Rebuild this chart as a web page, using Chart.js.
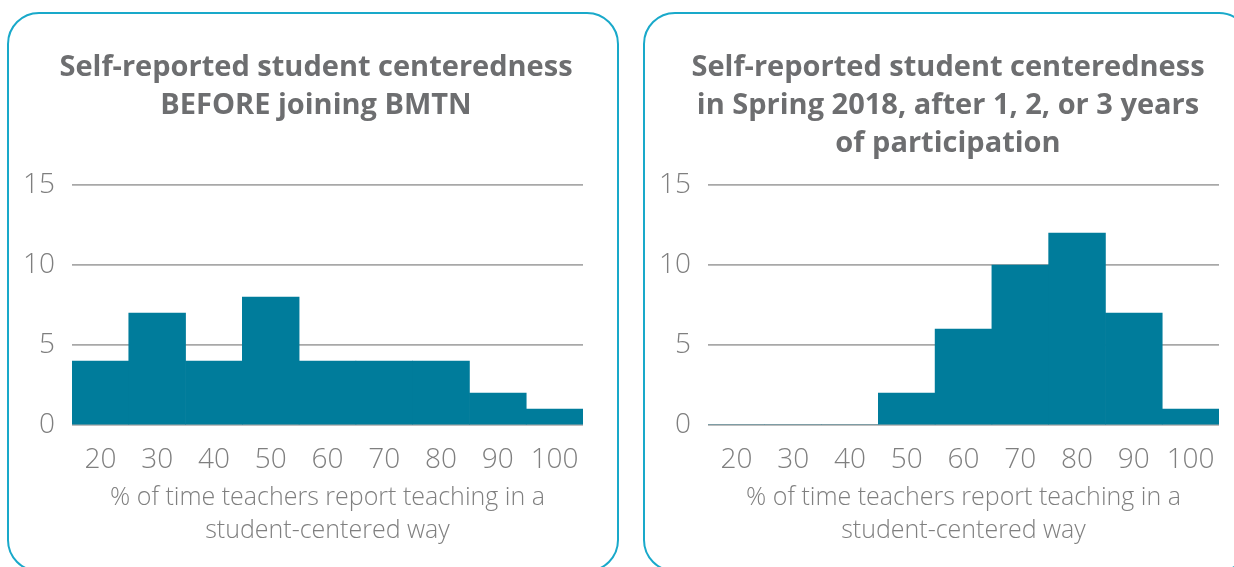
<!DOCTYPE html>
<html>
<head>
<meta charset="utf-8">
<script src="https://cdn.jsdelivr.net/npm/chart.js@4.4.1/dist/chart.umd.min.js"></script>
<style>
  html, body { margin: 0; padding: 0; background: #fff; width: 1234px; height: 567px; overflow: hidden; position: relative; }
  .panel { position: absolute; box-sizing: border-box; border: 2px solid #19a9ca; border-radius: 32px; }
  #p1 { left: 7px; top: 12px; width: 612px; height: 560px; }
  #p2 { left: 643px; top: 12px; width: 608px; height: 560px; }
  canvas { position: absolute; top: 0; }
  #c1 { left: 0; }
  #c2 { left: 630px; }
</style>
</head>
<body>
<div class="panel" id="p1"></div>
<div class="panel" id="p2"></div>
<canvas id="c1" width="620" height="567"></canvas>
<canvas id="c2" width="620" height="567"></canvas>
<script>
"use strict";

// bins: % of time teachers report teaching in a student-centered way
const categories = ["20", "30", "40", "50", "60", "70", "80", "90", "100"];
const beforeCounts = [4, 7, 4, 8, 4, 4, 4, 2, 1];
const spring2018Counts = [0, 0, 0, 2, 6, 10, 12, 7, 1];
const yMin = 0, yMax = 15, yStep = 5;

const titleBefore = ["Self-reported student centeredness", "BEFORE joining BMTN"];
const titleAfter = ["Self-reported student centeredness", "in Spring 2018, after 1, 2, or 3 years", "of participation"];
const axisTitle = ["% of time teachers report teaching in a", "student-centered way"];

const BAR = "#007c9b", GRID = "#a8a8a8", TICK = "#7f7f7f", TITLE = "#6d6e70";

Chart.defaults.font.family = "'Open Sans', sans-serif";

function makeChart(id, data, title, opts) {
  return new Chart(document.getElementById(id), {
    type: "bar",
    data: {
      labels: categories,
      datasets: [{ data: data, backgroundColor: BAR, barPercentage: 1, categoryPercentage: 1, borderWidth: 0 }]
    },
    options: {
      responsive: false,
      animation: false,
      layout: { padding: { top: 0, bottom: 20, left: opts.padLeft, right: opts.padRight } },
      plugins: {
        legend: { display: false },
        tooltip: { enabled: false },
        title: {
          display: true,
          text: title,
          color: TITLE,
          font: { size: 29, weight: "bold", lineHeight: 38 / 29 },
          padding: { top: 49, bottom: opts.titleBottom }
        }
      },
      scales: {
        x: {
          grid: { display: false },
          border: { display: false },
          ticks: { color: TICK, font: { size: 28, weight: 300, lineHeight: 1.2 }, padding: 10, maxRotation: 0, autoSkip: false },
          title: { display: true, text: axisTitle, color: TICK, font: { size: 25, weight: 300, lineHeight: 33 / 25 }, padding: { top: 6, bottom: 0 } },
          afterFit: s => { s.height = 122; }
        },
        y: {
          min: yMin, max: yMax,
          grid: { color: GRID, lineWidth: 1.8, drawTicks: false },
          border: { display: false },
          ticks: { stepSize: yStep, color: TICK, font: { size: 28, weight: 300 }, padding: 17 },
          afterFit: s => { s.width = 50; }
        },
        // empty right-hand spacer so the title centre matches the reference
        spacer: {
          type: "linear",
          position: "right",
          grid: { display: false },
          border: { display: false },
          ticks: { display: false },
          afterFit: s => { s.width = opts.spacer; }
        }
      }
    }
  });
}

makeChart("c1", beforeCounts, titleBefore, { padLeft: 22, padRight: 10, spacer: 27, titleBottom: 60 });
makeChart("c2", spring2018Counts, titleAfter, { padLeft: 28, padRight: 12, spacer: 19, titleBottom: 22 });
</script>
</body>
</html>
